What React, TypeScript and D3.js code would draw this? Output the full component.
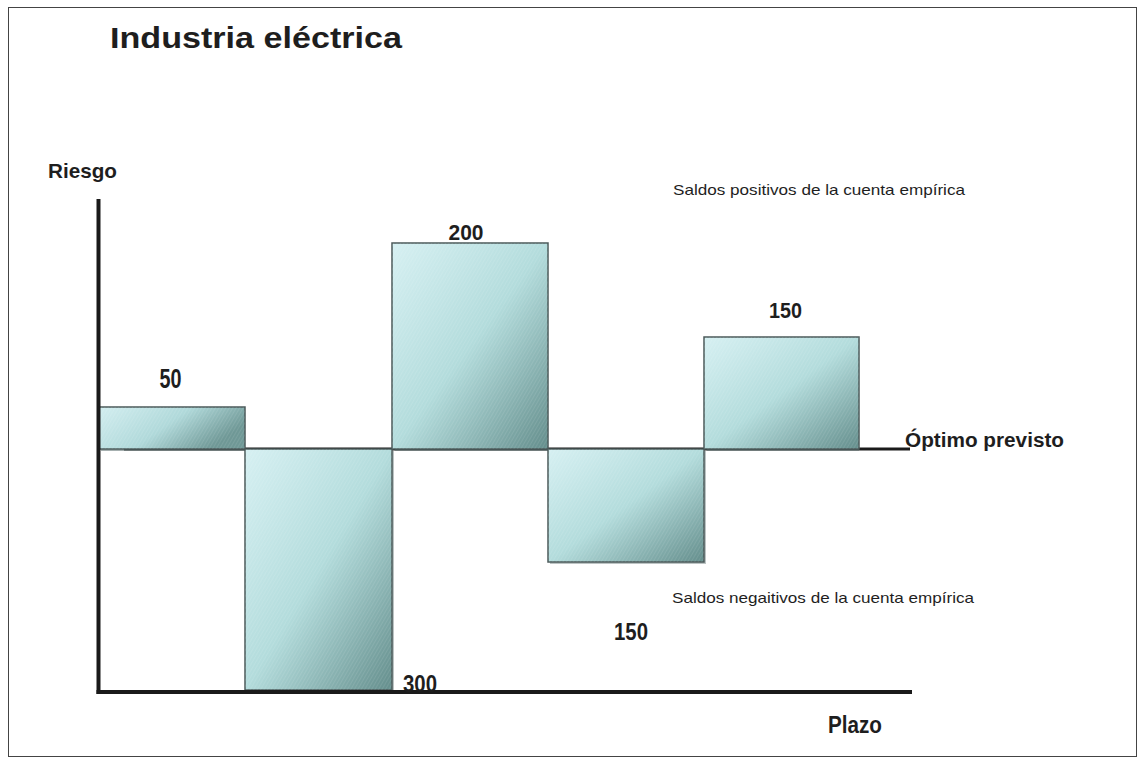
import React from "react";
import * as d3 from "d3";

// Periods (plazo), their relative lengths and the drawn bar heights (risk deviation from the optimum)
const periods = ["P1", "P2", "P3", "P4", "P5"];
const periodLengths = [147, 147, 156, 156, 155];
const barHeights = [42, -241, 206, -113, 112];
const valueLabels = ["50", "300", "200", "150", "150"];

const W = 1145;
const H = 765;

export default function App() {
  const starts = d3.cumsum([0, ...periodLengths]);
  const total = d3.sum(periodLengths);
  const x = d3.scaleLinear().domain([0, total]).range([98, 859]);
  const y = d3.scaleLinear().domain([-241, 250]).range([690, 199]);
  const y0 = y(0);
  const font = "'Liberation Sans', Arial, Helvetica, sans-serif";
  const txt = "#1e1e1e";

  // per-bar label layout: [dx from bar center, dy from bar end, fontSize, textLength]
  const labelLayout = [
    { dx: -1, dy: -19, size: 27, tl: 22, anchor: "middle" },
    { dx: 0, dy: 2, size: 24, tl: 34, anchor: "start" },
    { dx: -4, dy: -3, size: 22, tl: 35, anchor: "middle" },
    { dx: 5, dy: 78, size: 24, tl: 34, anchor: "middle" },
    { dx: 4, dy: -19, size: 22, tl: 33, anchor: "middle" },
  ];

  return (
    <svg
      width={W}
      height={H}
      style={{ position: "absolute", left: 0, top: 0, display: "block", background: "#fff" }}
    >
      <defs>
        <linearGradient id="barGrad" x1="0" y1="0" x2="1" y2="1">
          <stop offset="0%" stopColor="#d6f0f2" />
          <stop offset="50%" stopColor="#b3dcdc" />
          <stop offset="100%" stopColor="#648e8c" />
        </linearGradient>
        <linearGradient id="barGradFlat" x1="0" y1="0" x2="1" y2="0.4">
          <stop offset="0%" stopColor="#d3eef0" />
          <stop offset="55%" stopColor="#b0d9da" />
          <stop offset="100%" stopColor="#6f9896" />
        </linearGradient>
        <pattern id="hatch" width="3" height="3" patternUnits="userSpaceOnUse" patternTransform="rotate(30)">
          <line x1="0" y1="0" x2="0" y2="3" stroke="#ffffff" strokeWidth="1" strokeOpacity="0.18" />
        </pattern>
      </defs>

      {/* outer frame */}
      <rect x={8.5} y={7.5} width={1128} height={749} fill="none" stroke="#444" strokeWidth={1} />

      {/* title */}
      <text x={110} y={48} fontFamily={font} fontWeight="bold" fontSize={29} fill={txt}
        textLength={292} lengthAdjust="spacingAndGlyphs">
        Industria eléctrica
      </text>

      {/* axis titles */}
      <text x={48} y={178} fontFamily={font} fontWeight="bold" fontSize={21} fill={txt}
        textLength={69} lengthAdjust="spacingAndGlyphs">Riesgo</text>
      <text x={828} y={733} fontFamily={font} fontWeight="bold" fontSize={23} fill={txt}
        textLength={54} lengthAdjust="spacingAndGlyphs">Plazo</text>

      {/* optimum line */}
      <line x1={124} x2={910} y1={y0} y2={y0} stroke="#1a1a1a" strokeWidth={3} />
      <text x={905} y={447} fontFamily={font} fontWeight="bold" fontSize={20} fill={txt}
        textLength={159} lengthAdjust="spacingAndGlyphs">Óptimo previsto</text>

      {/* bars */}
      {periods.map((p, i) => {
        const v = barHeights[i];
        const bx = x(starts[i]);
        const bw = x(starts[i + 1]) - bx;
        const top = v >= 0 ? y(v) : y0;
        const h = Math.abs(y(v) - y0);
        const grad = h < 60 ? "url(#barGradFlat)" : "url(#barGrad)";
        return (
          <g key={p}>
            {v >= 0 ? (
              <rect x={bx + 3} y={y0 - 1} width={bw - 3} height={3} fill="#5d6f6f" opacity={0.55} />
            ) : (
              <rect x={bx + 2} y={top + 2} width={bw} height={h} fill="#7a8a8a" opacity={0.5} />
            )}
            <rect x={bx} y={top} width={bw} height={h} fill={grad} stroke="#4b5a5a" strokeWidth={1.5} />
            <rect x={bx} y={top} width={bw} height={h} fill="url(#hatch)" />
          </g>
        );
      })}

      {/* axes */}
      <line x1={98.5} x2={98.5} y1={199} y2={694} stroke="#1a1a1a" strokeWidth={4} />
      <line x1={96.5} x2={912} y1={692} y2={692} stroke="#1a1a1a" strokeWidth={4} />

      {/* value labels */}
      {valueLabels.map((l, i) => {
        const v = barHeights[i];
        const bx0 = x(starts[i]);
        const bx1 = x(starts[i + 1]);
        const L = labelLayout[i];
        const lx = L.anchor === "start" ? bx1 + 11 : (bx0 + bx1) / 2 + L.dx;
        const ly = y(v) + L.dy;
        return (
          <text key={i} x={lx} y={ly} textAnchor={L.anchor}
            fontFamily={font} fontWeight="bold" fontSize={L.size} fill={txt}
            textLength={L.tl} lengthAdjust="spacingAndGlyphs">
            {l}
          </text>
        );
      })}

      {/* annotations */}
      <text x={673} y={195} fontFamily={font} fontSize={15} fill={txt}
        textLength={292} lengthAdjust="spacingAndGlyphs">Saldos positivos de la cuenta empírica</text>
      <text x={672} y={603} fontFamily={font} fontSize={15} fill={txt}
        textLength={302} lengthAdjust="spacingAndGlyphs">Saldos negaitivos de la cuenta empírica</text>
    </svg>
  );
}
